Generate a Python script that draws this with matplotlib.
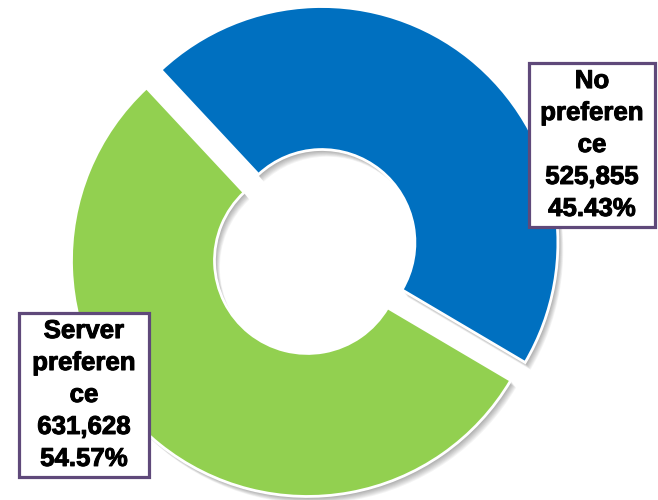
import matplotlib
matplotlib.use("Agg")
import matplotlib.pyplot as plt
from matplotlib.patches import Rectangle
from matplotlib.font_manager import FontProperties
import matplotlib.patheffects as pe

# Data
categories = ["No preference", "Server preference"]
counts = [525855, 631628]
label_words = ["No\npreferen\nce", "Server\npreferen\nce"]
colors = ["#0070C0", "#92D050"]

W, H = 658, 500
fig = plt.figure(figsize=(W / 100, H / 100), dpi=100)
ax = fig.add_axes([0, 0, 1, 1])

# Ring geometry in pixel-like data units
center = (314.7, 248.5)
radius = 236
ring = 143
explode = [11.5, 11.5]  # pie offsets wedges by this many data units
start = 133

# Soft drop shadow built from stacked translucent copies of the ring
for k in range(1, 10):
    ax.pie(counts, colors=["black", "black"], radius=radius,
           center=(center[0] + 0.6 * k, center[1] - 0.8 * k),
           explode=explode, startangle=start, counterclock=False,
           wedgeprops=dict(width=ring, linewidth=0, alpha=0.045),
           frame=True)

wedges, _ = ax.pie(counts, colors=colors, radius=radius, center=center,
                   explode=explode, startangle=start, counterclock=False,
                   wedgeprops=dict(width=ring, edgecolor="white", linewidth=2.0),
                   frame=True)

total = sum(counts)
font = FontProperties(family="Liberation Sans", weight="bold", size=18.6)
boxes = [  # (center x, center y, width, height)
    (592, 355, 126, 164),
    (84, 105, 130, 164),
]
for words, value, (bx, by, bw, bh) in zip(label_words, counts, boxes):
    ax.add_patch(Rectangle((bx - bw / 2, by - bh / 2), bw, bh,
                           facecolor="white", edgecolor="#5F497A",
                           linewidth=2.3, zorder=5))
    text = f"{words}\n{value:,}\n{value / total * 100:.2f}%"
    ax.text(bx, by, text, ha="center", va="center", fontproperties=font,
            color="black", linespacing=1.42, zorder=6,
            path_effects=[pe.withStroke(linewidth=0.7, foreground="black")])

ax.set_xlim(0, W)
ax.set_ylim(0, H)
ax.set_aspect("equal")
ax.axis("off")

fig.savefig("out.png", dpi=100, facecolor="white")
